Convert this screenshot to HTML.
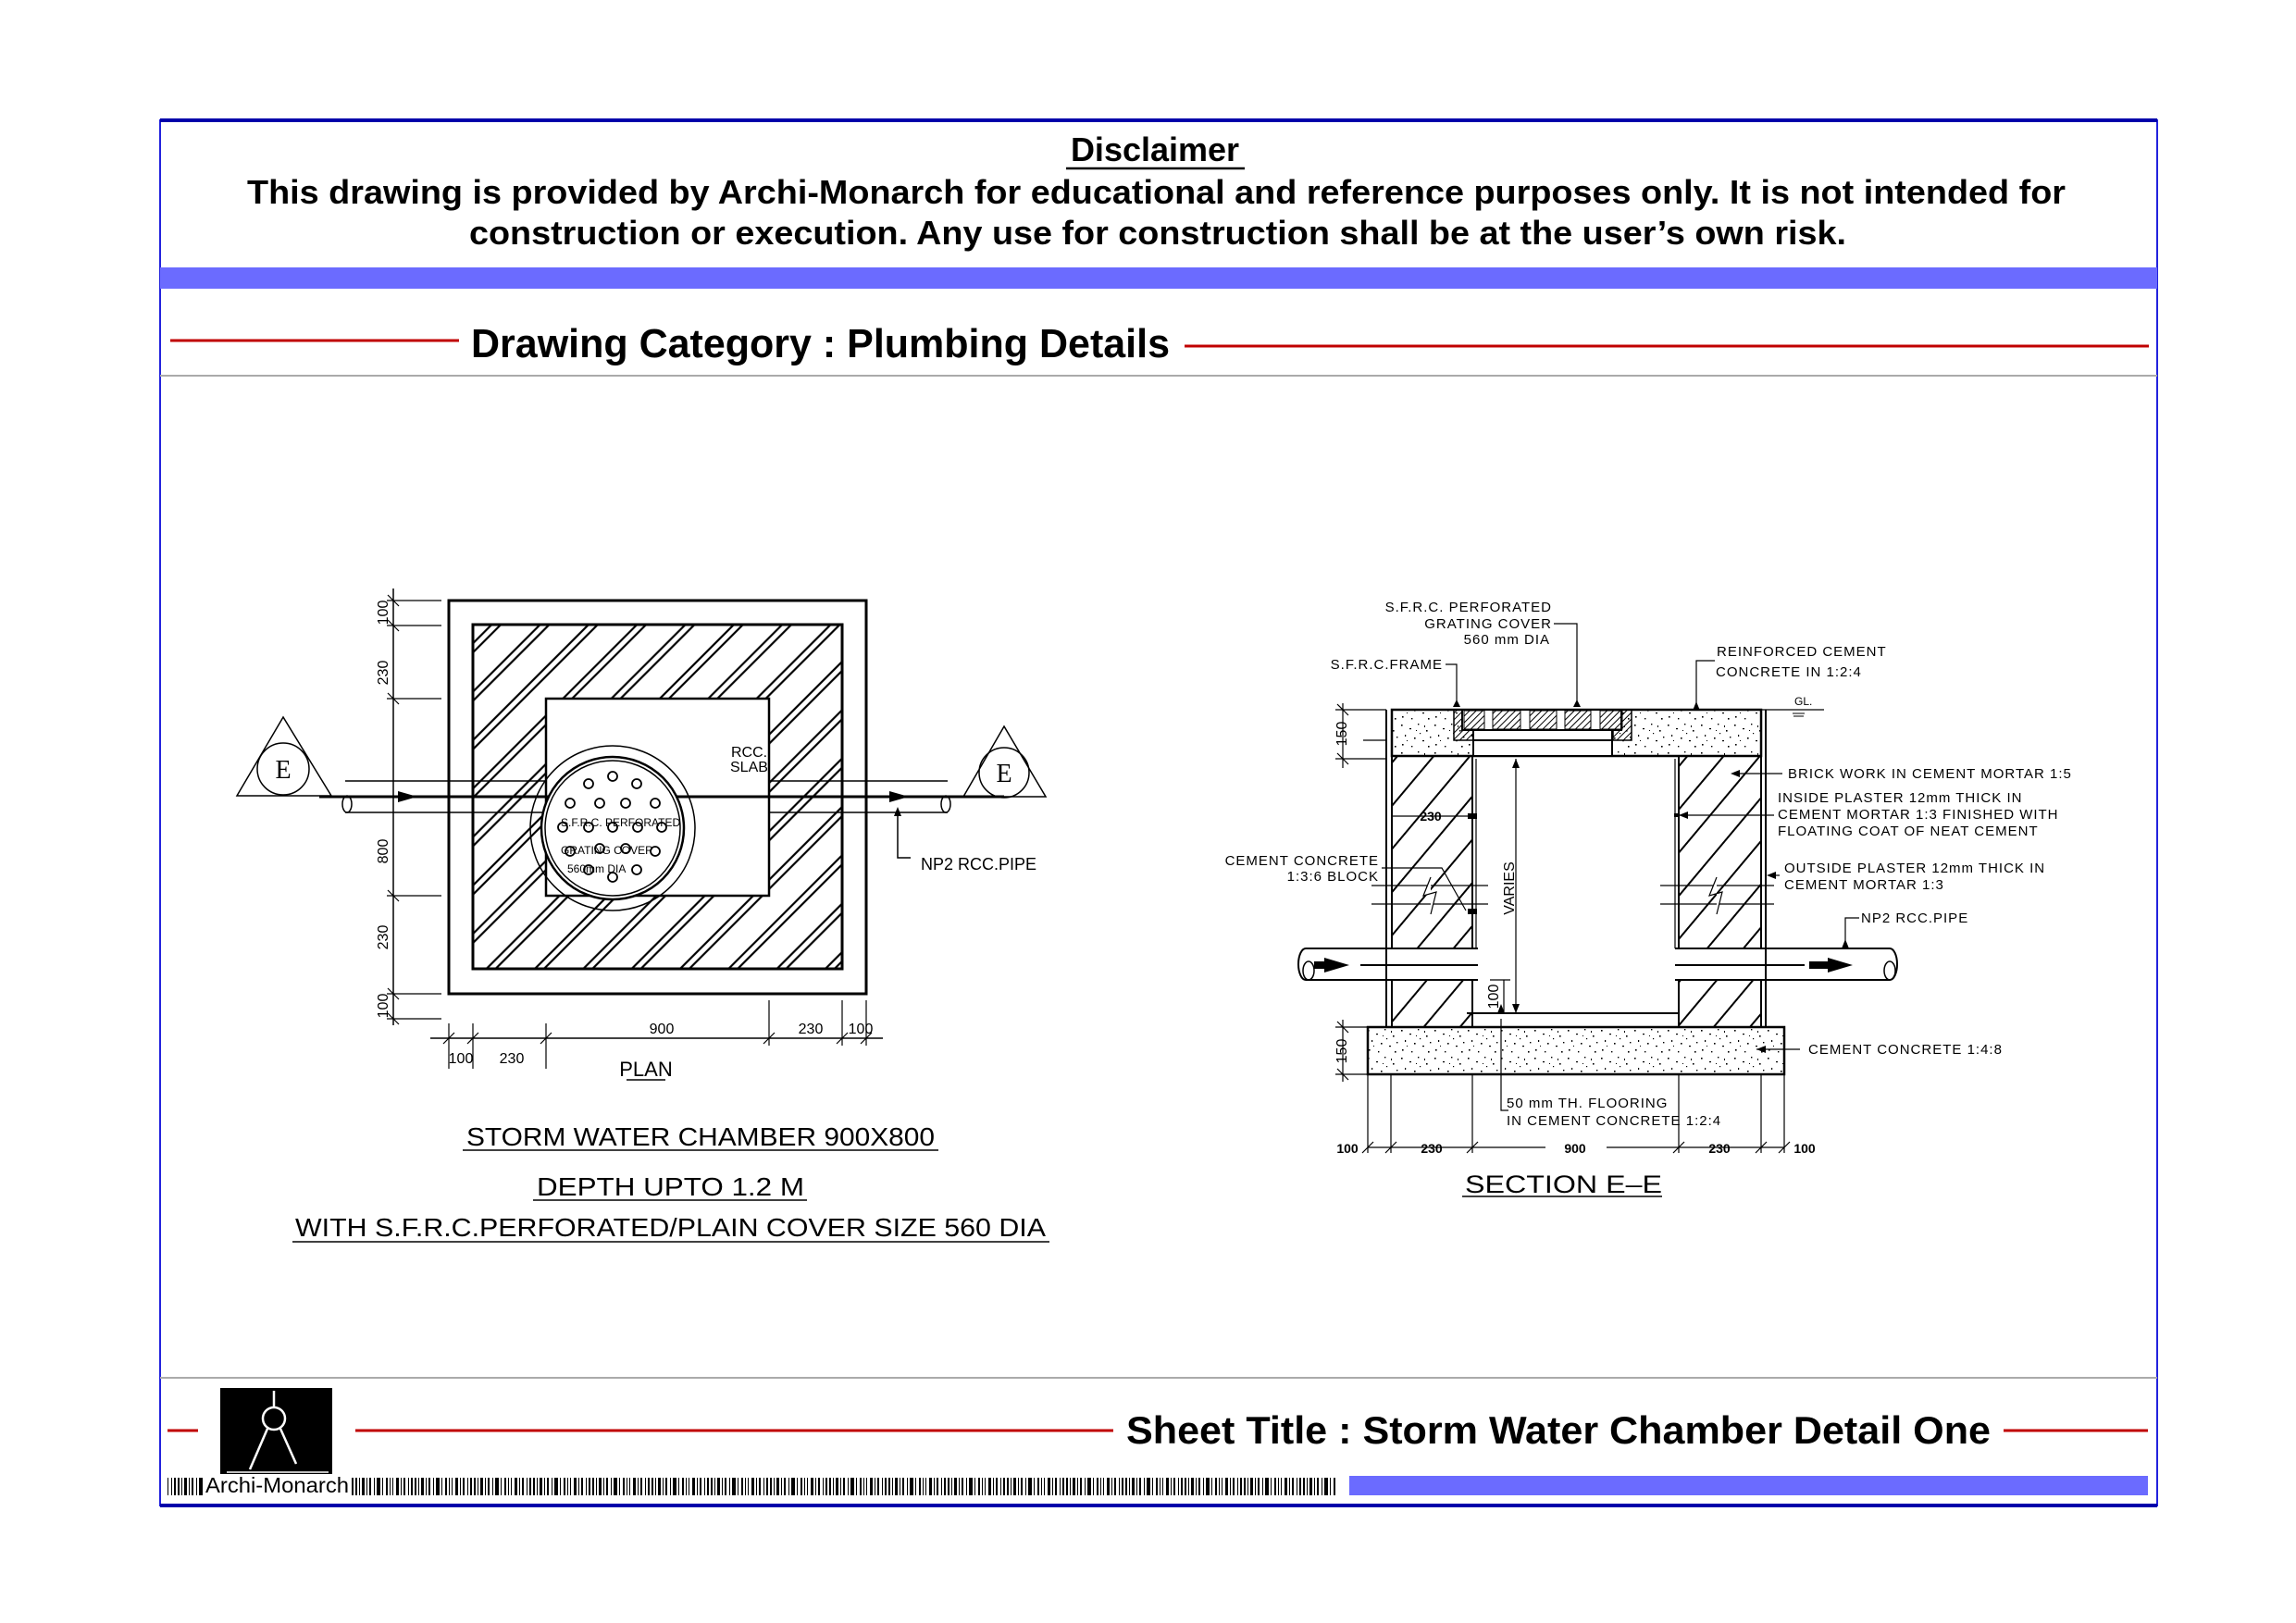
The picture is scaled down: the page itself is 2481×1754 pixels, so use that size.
<!DOCTYPE html>
<html><head><meta charset="utf-8"><style>html,body{margin:0;padding:0;background:#fff}svg{display:block}</style></head>
<body>
<svg width="2481" height="1754" viewBox="0 0 2481 1754" xmlns="http://www.w3.org/2000/svg" font-family="Liberation Sans, sans-serif">
<defs>
<pattern id="hp" width="37" height="37" patternUnits="userSpaceOnUse" patternTransform="rotate(45)">
<line x1="2" y1="0" x2="2" y2="37" stroke="#000" stroke-width="2.2"/><line x1="9" y1="0" x2="9" y2="37" stroke="#000" stroke-width="2.2"/></pattern>
<pattern id="hs" width="30" height="30" patternUnits="userSpaceOnUse" patternTransform="rotate(40)">
<line x1="2" y1="0" x2="2" y2="30" stroke="#000" stroke-width="2"/></pattern>
<pattern id="hg" width="5" height="5" patternUnits="userSpaceOnUse" patternTransform="rotate(45)">
<line x1="1" y1="0" x2="1" y2="5" stroke="#000" stroke-width="1"/></pattern>
<pattern id="st" width="36" height="30" patternUnits="userSpaceOnUse">
<g fill="#000"><rect x="2" y="3" width="1.6" height="1.6"/><rect x="11" y="7" width="2" height="1.2"/><rect x="20" y="2" width="1.4" height="1.4"/><rect x="29" y="9" width="1.6" height="1.6"/><rect x="6" y="14" width="1.2" height="2"/><rect x="16" y="17" width="1.6" height="1.6"/><rect x="25" y="20" width="2" height="1.2"/><rect x="33" y="16" width="1.4" height="1.4"/><rect x="3" y="24" width="1.6" height="1.6"/><rect x="13" y="26" width="1.4" height="1.4"/><rect x="22" y="12" width="1.2" height="1.2"/><rect x="31" y="26" width="1.6" height="1.6"/><rect x="8" y="20" width="1" height="1"/><rect x="18" y="9" width="1" height="1"/><rect x="27" y="4" width="1" height="2"/></g></pattern>
<pattern id="bc" width="64" height="20" patternUnits="userSpaceOnUse">
<g fill="#000"><rect x="0" y="0" width="2" height="20"/><rect x="4" y="0" width="1" height="20"/><rect x="7" y="0" width="3" height="20"/><rect x="12" y="0" width="1" height="20"/><rect x="15" y="0" width="2" height="20"/><rect x="20" y="0" width="1" height="20"/><rect x="23" y="0" width="4" height="20"/><rect x="29" y="0" width="1" height="20"/><rect x="33" y="0" width="2" height="20"/><rect x="37" y="0" width="1" height="20"/><rect x="40" y="0" width="1" height="20"/><rect x="44" y="0" width="3" height="20"/><rect x="49" y="0" width="1" height="20"/><rect x="52" y="0" width="2" height="20"/><rect x="57" y="0" width="1" height="20"/><rect x="60" y="0" width="2" height="20"/></g></pattern>
</defs>

<rect x="173" y="130" width="2158" height="1497" fill="none" stroke="#2222dd" stroke-width="2"/>
<line x1="173" y1="130" x2="2331" y2="130" stroke="#0000aa" stroke-width="4"/>
<line x1="173" y1="1627" x2="2331" y2="1627" stroke="#0000aa" stroke-width="4"/>
<rect x="173" y="289" width="2158" height="23" fill="#6b6bff"/>
<line x1="173" y1="406" x2="2331" y2="406" stroke="#aaa" stroke-width="2"/>
<line x1="173" y1="1489" x2="2331" y2="1489" stroke="#aaa" stroke-width="2"/>

<text x="1248" y="174" font-size="36" font-weight="bold" text-anchor="middle">Disclaimer</text>
<line x1="1152" y1="182" x2="1345" y2="182" stroke="#000" stroke-width="2.5"/>
<text x="267" y="220" font-size="36" font-weight="bold" textLength="1965" lengthAdjust="spacingAndGlyphs">This drawing is provided by Archi-Monarch for educational and reference purposes only. It is not intended for</text>
<text x="507" y="264" font-size="36" font-weight="bold" textLength="1488" lengthAdjust="spacingAndGlyphs">construction or execution. Any use for construction shall be at the user’s own risk.</text>

<line x1="184" y1="368" x2="496" y2="368" stroke="#c00000" stroke-width="3"/>
<line x1="1280" y1="374" x2="2322" y2="374" stroke="#c00000" stroke-width="3"/>
<text x="509" y="386" font-size="44" font-weight="bold" textLength="755" lengthAdjust="spacingAndGlyphs">Drawing Category : Plumbing Details</text>

<line x1="181" y1="1546" x2="214" y2="1546" stroke="#c00000" stroke-width="3"/>
<line x1="384" y1="1546" x2="1203" y2="1546" stroke="#c00000" stroke-width="3"/>
<line x1="2165" y1="1546" x2="2321" y2="1546" stroke="#c00000" stroke-width="3"/>
<text x="1217" y="1560" font-size="42" font-weight="bold" textLength="934" lengthAdjust="spacingAndGlyphs">Sheet Title : Storm Water Chamber Detail One</text>
<rect x="181" y="1597" width="1263" height="19" fill="url(#bc)"/>
<rect x="1458" y="1595" width="863" height="21" fill="#6b6bff"/>
<rect x="220" y="1594" width="158" height="22" fill="#fff"/>
<text x="222" y="1613" font-size="23" textLength="155" lengthAdjust="spacingAndGlyphs">Archi-Monarch</text>
<rect x="238" y="1500" width="121" height="93" fill="#000"/>
<g stroke="#fff" stroke-width="2.5" fill="none">
<line x1="296" y1="1503" x2="296" y2="1520"/><circle cx="296" cy="1533" r="12"/>
<line x1="289" y1="1544" x2="270" y2="1588"/><line x1="303" y1="1544" x2="320" y2="1582"/>
<line x1="245" y1="1591" x2="355" y2="1591" stroke-width="1.5"/></g>

<!-- PLAN -->
<g stroke="#000" fill="none">
<rect x="485" y="649" width="451" height="425" stroke-width="3"/>
<rect x="511" y="675" width="399" height="372" fill="url(#hp)" stroke-width="3"/>
<rect x="590" y="755" width="241" height="213" fill="#fff" stroke-width="2.5"/>
<line x1="373" y1="844" x2="590" y2="844" stroke-width="1.5"/><line x1="373" y1="878" x2="590" y2="878" stroke-width="1.5"/>
<line x1="831" y1="844" x2="1024" y2="844" stroke-width="1.5"/><line x1="831" y1="878" x2="1024" y2="878" stroke-width="1.5"/>
<line x1="345" y1="861" x2="1085" y2="861" stroke-width="3"/>
<ellipse cx="375" cy="869" rx="5" ry="9" stroke-width="1.5"/><ellipse cx="1022" cy="869" rx="5" ry="9" stroke-width="1.5"/>
<circle cx="662" cy="895" r="89" stroke-width="1.5" fill="none"/>
<circle cx="662" cy="895" r="77" stroke-width="2.5" fill="#fff"/>
<circle cx="662" cy="895" r="73" stroke-width="1.5"/>
<g stroke-width="1.8">
<circle cx="662" cy="839" r="5"/><circle cx="636" cy="847" r="5"/><circle cx="688" cy="847" r="5"/>
<circle cx="616" cy="868" r="5"/><circle cx="648" cy="868" r="5"/><circle cx="676" cy="868" r="5"/><circle cx="708" cy="868" r="5"/>
<circle cx="608" cy="894" r="5"/><circle cx="636" cy="894" r="5"/><circle cx="662" cy="894" r="5"/><circle cx="689" cy="894" r="5"/><circle cx="715" cy="894" r="5"/>
<circle cx="616" cy="920" r="5"/><circle cx="648" cy="917" r="5"/><circle cx="676" cy="917" r="5"/><circle cx="708" cy="920" r="5"/>
<circle cx="636" cy="940" r="5"/><circle cx="688" cy="940" r="5"/><circle cx="662" cy="948" r="5"/></g>
<polygon points="306,775 256,860 358,860" stroke-width="1.5"/><circle cx="306" cy="831" r="28" stroke-width="1.5"/>
<polygon points="1085,785 1041,861 1130,861" stroke-width="1.5"/><circle cx="1085" cy="835" r="27" stroke-width="1.5"/>
<polyline points="970,882 970,927 984,927" stroke-width="1.5"/>
<line x1="425" y1="636" x2="425" y2="1108" stroke-width="1.5"/>
<g stroke-width="1.2">
<line x1="418" y1="649" x2="477" y2="649"/><line x1="418" y1="676" x2="477" y2="676"/><line x1="418" y1="755" x2="477" y2="755"/><line x1="418" y1="968" x2="477" y2="968"/><line x1="418" y1="1074" x2="477" y2="1074"/><line x1="418" y1="1101" x2="477" y2="1101"/>
<line x1="419" y1="643" x2="431" y2="655"/><line x1="419" y1="670" x2="431" y2="682"/><line x1="419" y1="749" x2="431" y2="761"/><line x1="419" y1="962" x2="431" y2="974"/><line x1="419" y1="1068" x2="431" y2="1080"/><line x1="419" y1="1095" x2="431" y2="1107"/>
</g>
<line x1="465" y1="1122" x2="954" y2="1122" stroke-width="1.5"/>
<g stroke-width="1.2">
<line x1="485" y1="1106" x2="485" y2="1155"/><line x1="511" y1="1106" x2="511" y2="1155"/><line x1="590" y1="1106" x2="590" y2="1155"/>
<line x1="831" y1="1081" x2="831" y2="1130"/><line x1="910" y1="1081" x2="910" y2="1130"/><line x1="936" y1="1081" x2="936" y2="1130"/>
<line x1="479" y1="1128" x2="491" y2="1116"/><line x1="505" y1="1128" x2="517" y2="1116"/><line x1="584" y1="1128" x2="596" y2="1116"/><line x1="825" y1="1128" x2="837" y2="1116"/><line x1="904" y1="1128" x2="916" y2="1116"/><line x1="930" y1="1128" x2="942" y2="1116"/>
</g>
<line x1="677" y1="1167" x2="719" y2="1167" stroke-width="1.5"/>
</g>
<polygon points="430,855 451,861 430,867" fill="#000"/><polygon points="961,855 982,861 961,867" fill="#000"/>
<polygon points="966,882 970,872 974,882" fill="#000"/>
<g font-family="Liberation Serif, serif" font-size="28" text-anchor="middle"><text x="306" y="841">E</text><text x="1085" y="845">E</text></g>
<g font-size="16" fill="#000">
<text x="790" y="818">RCC.</text><text x="789" y="834">SLAB</text>
<text x="606" y="893" font-size="12">S.F.R.C. PERFORATED</text>
<text x="606" y="923" font-size="12">GRATING COVER</text>
<text x="613" y="943" font-size="12">560mm DIA</text>
<text x="995" y="940" font-size="18">NP2  RCC.PIPE</text>
<g font-size="16" text-anchor="middle">
<text transform="translate(419,662) rotate(-90)">100</text>
<text transform="translate(419,727) rotate(-90)">230</text>
<text transform="translate(419,920) rotate(-90)">800</text>
<text transform="translate(419,1013) rotate(-90)">230</text>
<text transform="translate(419,1087) rotate(-90)">100</text>
<text x="715" y="1117">900</text><text x="876" y="1117">230</text><text x="930" y="1117">100</text>
<text x="498" y="1149">100</text><text x="553" y="1149">230</text>
</g>
<text x="698" y="1163" font-size="22" text-anchor="middle">PLAN</text>
</g>
<g font-size="28" fill="#000">
<text x="504" y="1238" textLength="506" lengthAdjust="spacingAndGlyphs">STORM  WATER  CHAMBER  900X800</text>
<text x="580" y="1292" textLength="289" lengthAdjust="spacingAndGlyphs">DEPTH  UPTO  1.2  M</text>
<text x="319" y="1336" textLength="811" lengthAdjust="spacingAndGlyphs">WITH  S.F.R.C.PERFORATED/PLAIN  COVER  SIZE  560  DIA</text>
</g>
<g stroke="#000" stroke-width="1.5"><line x1="500" y1="1243" x2="1014" y2="1243"/><line x1="576" y1="1297" x2="872" y2="1297"/><line x1="316" y1="1342" x2="1134" y2="1342"/></g>

<!-- SECTION -->
<g stroke="#000" fill="none">
<rect x="1504" y="767" width="399" height="50" fill="url(#st)" stroke-width="2.5"/>
<rect x="1592" y="789" width="150" height="28" fill="#fff" stroke-width="2"/>
<line x1="1592" y1="800" x2="1742" y2="800" stroke-width="2"/>
<rect x="1571" y="767" width="21" height="33" fill="url(#hg)" stroke-width="1.5"/>
<rect x="1743" y="767" width="20" height="33" fill="url(#hg)" stroke-width="1.5"/>
<rect x="1580" y="767" width="172" height="22" fill="#fff" stroke-width="2"/>
<rect x="1582" y="768" width="22" height="20" fill="url(#hg)" stroke-width="1"/>
<rect x="1613" y="768" width="30" height="20" fill="url(#hg)" stroke-width="1"/>
<rect x="1653" y="768" width="29" height="20" fill="url(#hg)" stroke-width="1"/>
<rect x="1691" y="768" width="28" height="20" fill="url(#hg)" stroke-width="1"/>
<rect x="1729" y="768" width="24" height="20" fill="url(#hg)" stroke-width="1"/>
<rect x="1504" y="817" width="87" height="208" fill="url(#hs)" stroke-width="2"/>
<rect x="1504" y="1059" width="87" height="51" fill="url(#hs)" stroke-width="2"/>
<rect x="1814" y="817" width="89" height="208" fill="url(#hs)" stroke-width="2"/>
<rect x="1814" y="1059" width="89" height="51" fill="url(#hs)" stroke-width="2"/>
<line x1="1498" y1="767" x2="1498" y2="1110" stroke-width="2"/><line x1="1908" y1="767" x2="1908" y2="1110" stroke-width="2"/>
<line x1="1595" y1="820" x2="1595" y2="1025" stroke-width="1.2"/><line x1="1810" y1="820" x2="1810" y2="1025" stroke-width="1.2"/>
<line x1="1585" y1="1095" x2="1814" y2="1095" stroke-width="2"/>
<rect x="1478" y="1110" width="450" height="51" fill="url(#st)" stroke-width="2.5"/>
<line x1="1411" y1="1025" x2="1597" y2="1025" stroke-width="2"/><line x1="1411" y1="1059" x2="1597" y2="1059" stroke-width="2"/>
<line x1="1810" y1="1025" x2="2042" y2="1025" stroke-width="2"/><line x1="1810" y1="1059" x2="2042" y2="1059" stroke-width="2"/>
<path d="M1411 1025 A8 17 0 0 0 1411 1059" stroke-width="2"/><ellipse cx="1414" cy="1049" rx="6" ry="10" stroke-width="1.5"/>
<path d="M2042 1025 A8 17 0 0 1 2042 1059" stroke-width="2"/><ellipse cx="2042" cy="1049" rx="6" ry="10" stroke-width="1.5"/>
<line x1="1470" y1="1043" x2="1597" y2="1043" stroke-width="2"/><line x1="1810" y1="1043" x2="1950" y2="1043" stroke-width="2"/>
<g stroke-width="1.2">
<line x1="1482" y1="957" x2="1608" y2="957"/><line x1="1482" y1="977" x2="1608" y2="977"/>
<line x1="1794" y1="957" x2="1917" y2="957"/><line x1="1794" y1="977" x2="1917" y2="977"/>
<polyline points="1546,948 1538,968 1552,964 1546,988" fill="#fff"/>
<polyline points="1855,948 1847,968 1861,964 1855,988" fill="#fff"/>
</g>
<line x1="1903" y1="767" x2="1971" y2="767" stroke-width="1.2"/>
<line x1="1937" y1="771" x2="1950" y2="771" stroke-width="1"/><line x1="1938" y1="774" x2="1949" y2="774" stroke-width="1"/>
<g stroke-width="1.2">
<polyline points="1679,674 1704,674 1704,764"/>
<polyline points="1562,718 1574,718 1574,764"/>
<polyline points="1853,714 1833,714 1833,768"/>
<line x1="1926" y1="836" x2="1872" y2="836"/>
<line x1="1917" y1="881" x2="1814" y2="881"/>
<line x1="1923" y1="946" x2="1911" y2="946"/>
<polyline points="2009,992 1994,992 1994,1023"/>
<polyline points="1493,938 1558,938 1584,984"/>
<line x1="1945" y1="1134" x2="1898" y2="1134"/>
<polyline points="1622,1101 1622,1200 1630,1200"/>
<line x1="1451" y1="760" x2="1451" y2="830"/><line x1="1443" y1="767" x2="1498" y2="767"/><line x1="1443" y1="820" x2="1498" y2="820"/>
<line x1="1473" y1="800" x2="1498" y2="800"/>
<line x1="1445" y1="761" x2="1457" y2="773"/><line x1="1445" y1="814" x2="1457" y2="826"/>
<line x1="1451" y1="1102" x2="1451" y2="1169"/><line x1="1443" y1="1110" x2="1478" y2="1110"/><line x1="1443" y1="1161" x2="1478" y2="1161"/>
<line x1="1445" y1="1104" x2="1457" y2="1116"/><line x1="1445" y1="1155" x2="1457" y2="1167"/>
<line x1="1638" y1="820" x2="1638" y2="1095"/>
<line x1="1625" y1="1059" x2="1625" y2="1095"/><line x1="1610" y1="1059" x2="1632" y2="1059"/>
<line x1="1505" y1="882" x2="1591" y2="882"/>
<line x1="1478" y1="1240" x2="1670" y2="1240"/><line x1="1736" y1="1240" x2="1928" y2="1240"/>
<line x1="1478" y1="1162" x2="1478" y2="1246"/><line x1="1503" y1="1162" x2="1503" y2="1246"/><line x1="1591" y1="1162" x2="1591" y2="1246"/>
<line x1="1814" y1="1162" x2="1814" y2="1246"/><line x1="1903" y1="1162" x2="1903" y2="1246"/><line x1="1928" y1="1162" x2="1928" y2="1246"/>
<line x1="1472" y1="1246" x2="1484" y2="1234"/><line x1="1497" y1="1246" x2="1509" y2="1234"/><line x1="1585" y1="1246" x2="1597" y2="1234"/><line x1="1808" y1="1246" x2="1820" y2="1234"/><line x1="1897" y1="1246" x2="1909" y2="1234"/><line x1="1922" y1="1246" x2="1934" y2="1234"/>
</g>
<line x1="1580" y1="1293" x2="1796" y2="1293" stroke-width="1.5"/>
</g>
<g fill="#000">
<polygon points="1700,764 1704,756 1708,764"/><polygon points="1570,764 1574,756 1578,764"/><polygon points="1829,768 1833,758 1837,768"/>
<polygon points="1870,836 1880,832 1880,840"/><polygon points="1814,881 1824,877 1824,885"/><polygon points="1909,946 1919,942 1919,950"/>
<polygon points="1990,1025 1994,1015 1998,1025"/><polygon points="1898,1134 1908,1130 1908,1138"/><polygon points="1618,1095 1622,1085 1626,1095"/>
<polygon points="1634,830 1638,820 1642,830"/><polygon points="1634,1085 1638,1095 1642,1085"/>
<polygon points="1431,1035 1458,1043 1431,1051 1431,1047 1420,1047 1420,1039 1431,1039"/>
<polygon points="1975,1035 2002,1043 1975,1051 1975,1047 1955,1047 1955,1039 1975,1039"/>
<rect x="1586" y="879" width="10" height="6"/><rect x="1586" y="982" width="10" height="6"/><rect x="1809" y="879" width="6" height="4"/>
</g>
<g font-size="15" fill="#000" letter-spacing="1">
<g text-anchor="end"><text x="1677" y="661">S.F.R.C.  PERFORATED</text><text x="1677" y="679">GRATING  COVER</text><text x="1675" y="696">560  mm  DIA</text>
<text x="1559" y="723">S.F.R.C.FRAME</text><text x="1490" y="935">CEMENT  CONCRETE</text><text x="1490" y="952">1:3:6  BLOCK</text></g>
<text x="1855" y="709">REINFORCED  CEMENT</text><text x="1854" y="731">CONCRETE  IN  1:2:4</text>
<text x="1939" y="762" font-size="12" letter-spacing="0">GL.</text>
<text x="1932" y="841">BRICK  WORK  IN  CEMENT  MORTAR  1:5</text>
<text x="1921" y="867">INSIDE  PLASTER  12mm  THICK  IN</text><text x="1921" y="885">CEMENT  MORTAR  1:3  FINISHED  WITH</text><text x="1921" y="903">FLOATING  COAT  OF  NEAT  CEMENT</text>
<text x="1928" y="943">OUTSIDE  PLASTER  12mm  THICK  IN</text><text x="1928" y="961">CEMENT  MORTAR  1:3</text>
<text x="2011" y="997">NP2  RCC.PIPE</text>
<text x="1954" y="1139">CEMENT  CONCRETE  1:4:8</text>
<text x="1628" y="1197">50  mm  TH.  FLOORING</text><text x="1628" y="1216">IN  CEMENT  CONCRETE  1:2:4</text>
<g text-anchor="middle" font-size="16" letter-spacing="0">
<text transform="translate(1455,793) rotate(-90)">150</text>
<text transform="translate(1455,1136) rotate(-90)">150</text>
<text transform="translate(1636,960) rotate(-90)">VARIES</text>
<text transform="translate(1619,1077) rotate(-90)">100</text>
</g>
<g text-anchor="middle" font-size="14" font-weight="bold" letter-spacing="0">
<text x="1546" y="887">230</text>
<text x="1456" y="1246">100</text><text x="1547" y="1246">230</text><text x="1702" y="1246">900</text><text x="1858" y="1246">230</text><text x="1950" y="1246">100</text>
</g>
<text x="1583" y="1289" font-size="27" letter-spacing="0" textLength="213" lengthAdjust="spacingAndGlyphs">SECTION    E–E</text>
</g>
</svg>
</body></html>
